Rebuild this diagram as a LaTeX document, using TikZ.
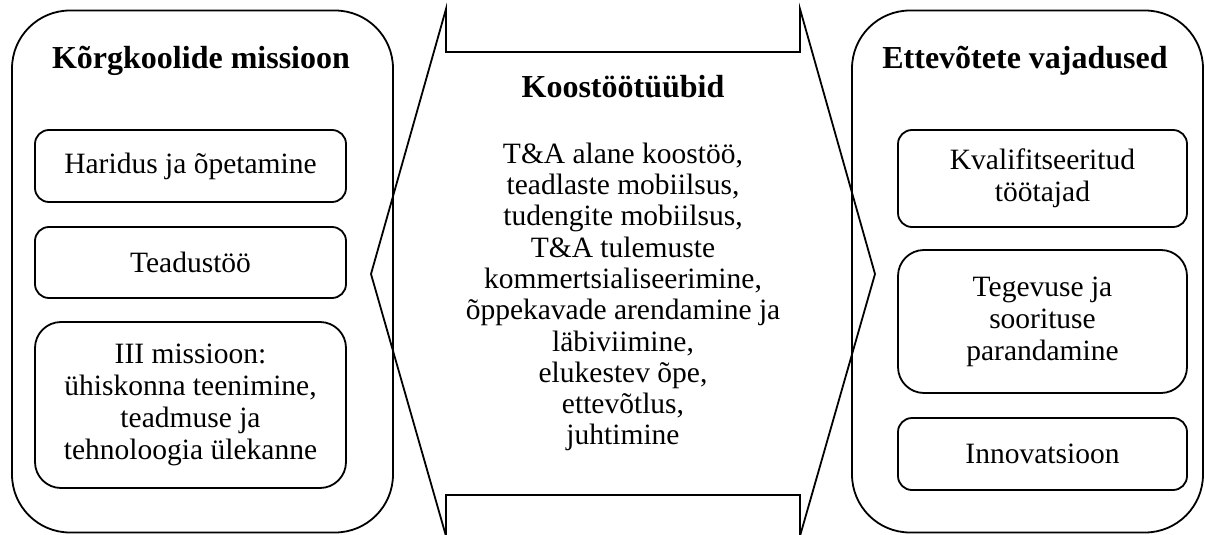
\documentclass[tikz,border=0pt]{standalone}
\usepackage{fontspec}
\setmainfont{Liberation Serif}
\begin{document}
\begin{tikzpicture}[x=1pt,y=-1pt,
  line width=1.8pt,
  bodytext/.style={font=\fontsize{29.5}{32}\selectfont, align=center},
  titletext/.style={font=\bfseries\fontsize{32}{36}\selectfont, anchor=base, inner sep=0pt},
  outerbox/.style={draw, rounded corners=58pt, minimum width=381pt, minimum height=522pt, inner sep=0pt},
  itembox/.style={draw, bodytext, rounded corners=14pt, minimum width=311pt, inner sep=0pt},
  bigitembox/.style={itembox, rounded corners=26pt}
]
\useasboundingbox (0,0) rectangle (1205,535);
\fill[white] (0,0) rectangle (1205,535);

% outer frames
\node[outerbox] (uni) at (202.5,271.5) {};
\node[outerbox, minimum width=351pt] (firm) at (1027.5,271.5) {};

% titles
\node[titletext] (unititle) at (201,69) {Kõrgkoolide missioon};
\node[titletext] (firmtitle) at (1025,69) {Ettevõtete vajadused};
\node[titletext] (cooptitle) at (623,97) {Koostöötüübid};

% mission items
\node[itembox, minimum height=72pt] (edu) at (190.5,166) {Haridus ja õpetamine};
\node[itembox, minimum height=71pt] (research) at (190.5,262.5) {Teadustöö};
\node[bigitembox, minimum height=166pt] (third) at (190.5,405) {III missioon:\\ühiskonna teenimine,\\teadmuse ja\\tehnoloogia ülekanne};

% business needs
\node[itembox, minimum width=289pt, minimum height=97pt] (staff) at (1042.5,178.5) {Kvalifitseeritud\\töötajad};
\node[bigitembox, minimum width=289pt, minimum height=143pt] (perf) at (1042.5,321.5) {Tegevuse ja\\soorituse\\parandamine};
\node[itembox, minimum width=289pt, minimum height=72pt] (innov) at (1042.5,454) {Innovatsioon};

% double-headed arrow between the two frames
\coordinate (ltip) at (371,274);
\coordinate (rtip) at (875,274);
\coordinate (tl) at (446,9);
\coordinate (tr) at (800,9);
\coordinate (bl) at (446,536);
\coordinate (br) at (800,536);
\draw[line join=miter] (ltip) -- (tl) -- (446,52) -- (800,52) -- (tr) -- (rtip)
  -- (br) -- (800,495) -- (446,495) -- (bl) -- cycle;

% cooperation types
\node[bodytext, font=\fontsize{29.5}{31.3}\selectfont, inner sep=0pt] (types) at (623,297) {T\&A alane koostöö,\\teadlaste mobiilsus,\\tudengite mobiilsus,\\T\&A tulemuste\\kommertsialiseerimine,\\õppekavade arendamine ja\\läbiviimine,\\elukestev õpe,\\ettevõtlus,\\juhtimine};
\end{tikzpicture}
\end{document}
